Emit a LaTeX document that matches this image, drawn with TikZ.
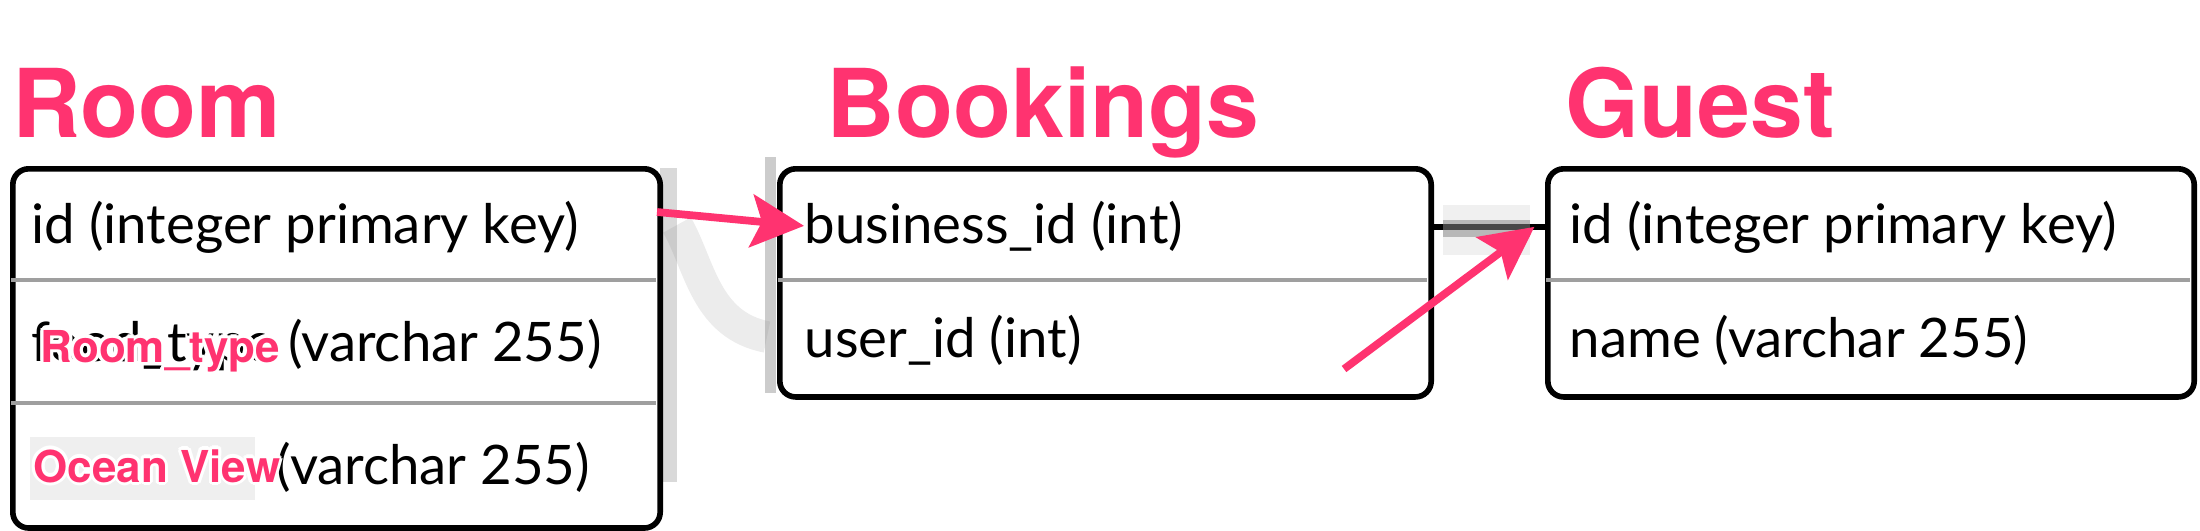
\documentclass[tikz,border=0pt]{standalone}
\usepackage{fontspec}
\usepackage[copies]{contour}
\usepackage{tikz}
\usetikzlibrary{arrows.meta}

\newfontfamily\herosfont{TeX Gyre Heros}
\newfontfamily\latofont{Lato}
\definecolor{hotpink}{RGB}{255,51,112}
\contournumber{12}

\tikzset{
  tablebox/.style={draw=black, line width=1.6pt, rounded corners=4.5pt, fill=white, anchor=north west},
  rowline/.style={draw=gray!75, line width=1.2pt},
  rowtext/.style={anchor=base west, inner sep=0pt, font=\latofont\fontsize{15.5}{15.5}\selectfont},
  tabletitle/.style={anchor=base west, inner sep=0pt, text=hotpink, font=\herosfont\bfseries\fontsize{27}{27}\selectfont},
  fieldtag/.style={anchor=base west, inner sep=0pt, text=hotpink, font=\herosfont\bfseries\fontsize{12.5}{12.5}\selectfont},
  linkline/.style={draw=black, line width=1.6pt},
  pinkarrow/.style={draw=hotpink, line width=2.2pt, -{Stealth[length=15pt,width=15pt,inset=3pt]}},
  redact/.style={fill=gray}
}

\begin{document}
\begin{tikzpicture}[x=0.01cm,y=-0.01cm]
\useasboundingbox (0,0) rectangle (2200,530);

% pixelated remains of the hidden connector
\fill[redact, opacity=0.3] (660,168) rectangle (677,482);
\fill[redact, opacity=0.4] (765,157) rectangle (776,393);
\draw[gray, opacity=0.15, line width=9pt] (677,225) .. controls (700,265) and (705,325) .. (767,337);

% tables
\node[tablebox, minimum width=6.47cm, minimum height=3.59cm] (room) at (10,166) {};
\node[tablebox, minimum width=6.51cm, minimum height=2.28cm] (bookings) at (777,166) {};
\node[tablebox, minimum width=6.46cm, minimum height=2.28cm] (guest) at (1545,166) {};

\draw[rowline] (11,280) -- (656,280);
\draw[rowline] (11,403) -- (656,403);
\draw[rowline] (778,280) -- (1427,280);
\draw[rowline] (1546,280) -- (2190,280);

% fields
\node[rowtext] (room-id) at (31,243) {id (integer primary key)};
\node[rowtext] (room-type) at (31,361) {food\_type (varchar 255)};
\fill[redact, opacity=0.12] (30,437) rectangle (255,500);
\node[rowtext] (room-view) at (276,484) {(varchar 255)};

\node[rowtext] (bk-bid) at (804,243) {business\_id (int)};
\node[rowtext] (bk-uid) at (804,357) {user\_id (int)};

\node[rowtext] (guest-id) at (1569,243) {id (integer primary key)};
\node[rowtext] (guest-name) at (1569,357) {name (varchar 255)};

% pink labels
\contourlength{1.5pt}
\node[tabletitle] (room-title) at (12,137) {\contour{white}{Room}};
\node[tabletitle] (bk-title) at (826,137) {\contour{white}{Bookings}};
\node[tabletitle] (guest-title) at (1565,137) {\contour{white}{Guest}};

\node[fieldtag] (type-tag) at (40,362) {\contourlength{0.9pt}\contour{white}{Room\_type}};
\node[fieldtag] (view-tag) at (33,482) {\contourlength{0.9pt}\contour{white}{Ocean View}};

% link between bookings and guest
\draw[linkline] (bookings.east |- guest-id.west) -- (guest.west |- guest-id.west);
\fill[redact, opacity=0.12] (1443,205) rectangle (1530,255);
\fill[redact, opacity=0.5] (1443,220) rectangle (1530,237);

% arrows
\coordinate (room-out) at (657,212);
\coordinate (arrow-start) at (1344,369);
\draw[pinkarrow] (room-out) -- (bk-bid.west);
\draw[pinkarrow] (arrow-start) -- ([xshift=-3pt]guest.west |- guest-id.west);

\end{tikzpicture}
\end{document}
